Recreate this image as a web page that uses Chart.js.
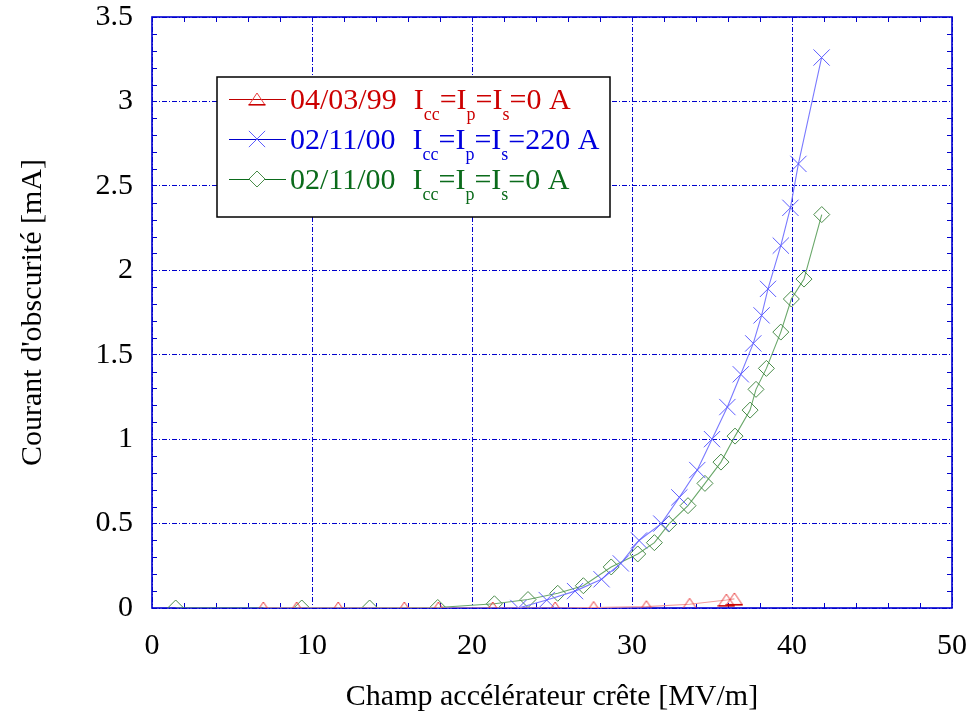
<!DOCTYPE html>
<html><head><meta charset="utf-8">
<script src="https://cdn.jsdelivr.net/npm/chart.js@4/dist/chart.umd.min.js"></script>
<style>html,body{margin:0;padding:0;background:#fff}</style>
</head><body>
<canvas id="c" width="970" height="715"></canvas>
<script>
// ---- data ----
const redX   = [6.96, 9.04, 11.64, 15.77, 17.9, 21.3, 25.2, 27.6, 30.9, 33.6, 35.9, 36.4];
const redY   = [0, 0, 0, 0, 0, 0, 0, 0.003, 0.008, 0.022, 0.047, 0.054];
const blueX  = [22.9, 24.67, 26.44, 28.1, 29.3, 30.44, 31.83, 32.96, 34.08, 35.0, 35.96, 36.8, 37.58, 38.1, 38.5, 39.3, 39.9, 40.4, 41.85];
const blueY  = [0, 0.047, 0.10, 0.17, 0.264, 0.40, 0.50, 0.655, 0.817, 1.0, 1.19, 1.384, 1.567, 1.733, 1.89, 2.146, 2.37, 2.63, 3.26];
const greenX = [1.48, 9.36, 13.6, 17.86, 21.4, 23.5, 25.36, 26.96, 28.7, 30.36, 31.4, 32.3, 33.5, 34.56, 35.56, 36.44, 37.38, 37.75, 38.4, 39.3, 39.96, 40.75, 41.86];
const greenY = [0, 0, 0, 0.003, 0.025, 0.05, 0.087, 0.132, 0.243, 0.32, 0.387, 0.497, 0.606, 0.738, 0.864, 1.018, 1.172, 1.295, 1.419, 1.634, 1.83, 1.948, 2.33];
const xTickLabels = ['0', '10', '20', '30', '40', '50'];
const yTickLabels = ['0', '0.5', '1', '1.5', '2', '2.5', '3', '3.5'];
const legendDates = ['04/03/99', '02/11/00', '02/11/00'];
const legendCurrents = ['0', '220', '0'];
const xTitle = 'Champ accélérateur crête [MV/m]';
const yTitle = "Courant d'obscurité [mA]";

const FONT = '"Liberation Serif", "Times New Roman", serif';

function triangleMarker(color, baseColor) {
  const c = document.createElement('canvas');
  c.width = 18; c.height = 14;
  const g = c.getContext('2d');
  g.strokeStyle = color; g.lineWidth = 1;
  g.beginPath(); g.moveTo(1, 13); g.lineTo(9, 1); g.lineTo(17, 13); g.stroke();
  g.strokeStyle = baseColor; g.lineWidth = 1.6;
  g.beginPath(); g.moveTo(0.5, 12.8); g.lineTo(17.5, 12.8); g.stroke();
  return c;
}
const triImg = triangleMarker('#e83c3c', '#c80000');

const toPts = (xs, ys) => xs.map((x, i) => ({x: x, y: ys[i]}));

const series = [
  {data: toPts(redX, redY), line: '#f29a9a', mark: '#e83c3c', style: triImg, radius: 9, legendLine: '#c00000', text: '#cc0000'},
  {data: toPts(blueX, blueY), line: '#7a7aff', mark: '#5c5cff', style: 'crossRot', radius: 11.5, legendLine: '#0000cc', text: '#0000dd'},
  {data: toPts(greenX, greenY), line: '#6aa86a', mark: '#4a8c4a', style: 'rectRot', radius: 8, legendLine: '#0b6b1b', text: '#0b6b1b'}
];

const framePlugin = {
  id: 'frame',
  beforeDatasetsDraw(chart) {
    const {ctx, chartArea: a, scales: {x, y}} = chart;
    ctx.save();
    ctx.strokeStyle = '#0000cc';
    ctx.lineWidth = 1;
    ctx.beginPath();
    for (let v = 2; v < 50; v += 2) {
      if (v % 10 === 0) continue;
      const px = Math.round(x.getPixelForValue(v)) + 0.5;
      ctx.moveTo(px, a.bottom); ctx.lineTo(px, a.bottom - 5);
      ctx.moveTo(px, a.top); ctx.lineTo(px, a.top + 5);
    }
    for (let k = 1; k < 35; k++) {
      if (k % 5 === 0) continue;
      const py = Math.round(y.getPixelForValue(k / 10)) + 0.5;
      ctx.moveTo(a.left, py); ctx.lineTo(a.left + 5, py);
      ctx.moveTo(a.right, py); ctx.lineTo(a.right - 5, py);
    }
    ctx.stroke();
    ctx.lineWidth = 1.6;
    ctx.strokeStyle = '#0000d0';
    ctx.strokeRect(a.left, a.top, a.right - a.left, a.bottom - a.top);
    ctx.restore();
  }
};

const legendPlugin = {
  id: 'customLegend',
  afterDraw(chart) {
    const ctx = chart.ctx;
    ctx.save();
    ctx.fillStyle = '#fff';
    ctx.fillRect(217, 77, 393, 140);
    ctx.strokeStyle = '#000'; ctx.lineWidth = 1.5;
    ctx.strokeRect(217, 77, 393, 140);
    const main = '30px ' + FONT, sub = '18px ' + FONT;
    series.forEach((s, i) => {
      const yMid = 99 + 40 * i;
      const yBase = yMid + 10;
      ctx.strokeStyle = s.legendLine; ctx.lineWidth = 1.2;
      ctx.beginPath(); ctx.moveTo(229, yMid + 0.5); ctx.lineTo(286, yMid + 0.5); ctx.stroke();
      ctx.strokeStyle = s.mark; ctx.lineWidth = 1;
      const mx = 257, my = yMid;
      if (s.style === 'crossRot') {
        const d = s.radius * Math.SQRT1_2;
        ctx.beginPath(); ctx.moveTo(mx - d, my - d); ctx.lineTo(mx + d, my + d);
        ctx.moveTo(mx - d, my + d); ctx.lineTo(mx + d, my - d); ctx.stroke();
      } else if (s.style === 'rectRot') {
        const r = s.radius;
        ctx.fillStyle = '#fff';
        ctx.beginPath(); ctx.moveTo(mx - r, my); ctx.lineTo(mx, my - r); ctx.lineTo(mx + r, my); ctx.lineTo(mx, my + r); ctx.closePath();
        ctx.fill(); ctx.stroke();
      } else {
        ctx.drawImage(s.style, mx - 9, my - 7);
      }
      ctx.fillStyle = s.text;
      ctx.textBaseline = 'alphabetic';
      let x = 290;
      ctx.font = main; ctx.fillText(legendDates[i], x, yBase);
      x += ctx.measureText(legendDates[i]).width + 17;
      const parts = [['I', 'cc'], ['=I', 'p'], ['=I', 's'], ['=' + legendCurrents[i] + ' A', '']];
      parts.forEach(p => {
        ctx.font = main; ctx.fillText(p[0], x, yBase);
        x += ctx.measureText(p[0]).width;
        if (p[1]) {
          ctx.font = sub; ctx.fillText(p[1], x, yBase + 11);
          x += ctx.measureText(p[1]).width;
        }
      });
    });
    ctx.restore();
  }
};

const gridCommon = {color: '#0000cc', lineWidth: 1, drawTicks: false};
function zeroPad(s) { s.paddingTop = 0; s.paddingBottom = 0; s.paddingLeft = 0; s.paddingRight = 0; }

new Chart(document.getElementById('c'), {
  type: 'scatter',
  data: {
    datasets: series.map(s => ({
      data: s.data,
      showLine: true,
      borderColor: s.line,
      borderWidth: 1.1,
      backgroundColor: 'rgba(0,0,0,0)',
      pointStyle: s.style,
      pointRadius: s.radius,
      pointBorderColor: s.mark,
      pointBackgroundColor: 'rgba(0,0,0,0)',
      pointBorderWidth: 1,
      tension: 0
    }))
  },
  options: {
    responsive: false,
    animation: false,
    devicePixelRatio: 1,
    layout: {padding: {top: 17, right: 18, left: 0, bottom: 0}},
    plugins: {legend: {display: false}, tooltip: {enabled: false}},
    scales: {
      x: {
        type: 'linear', min: 0, max: 50,
        afterFit: s => { s.height = 107; zeroPad(s); },
        grid: gridCommon,
        border: {display: false, dash: [5, 2, 1, 2]},
        ticks: {stepSize: 10, padding: 20, color: '#000', font: {family: FONT, size: 30},
                callback: (v, i) => xTickLabels[i]},
        title: {display: true, text: xTitle, color: '#000', font: {family: FONT, size: 30}, padding: {top: 0, bottom: 0}}
      },
      y: {
        type: 'linear', min: 0, max: 3.5,
        afterFit: s => { s.width = 152; zeroPad(s); },
        grid: gridCommon,
        border: {display: false, dash: [5, 2, 1, 2]},
        ticks: {stepSize: 0.5, padding: 19, color: '#000', font: {family: FONT, size: 30},
                callback: (v, i) => yTickLabels[i]},
        title: {display: true, text: yTitle, color: '#000', font: {family: FONT, size: 30}, padding: {top: 15, bottom: 0}}
      }
    }
  },
  plugins: [framePlugin, legendPlugin]
});
</script>
</body></html>
